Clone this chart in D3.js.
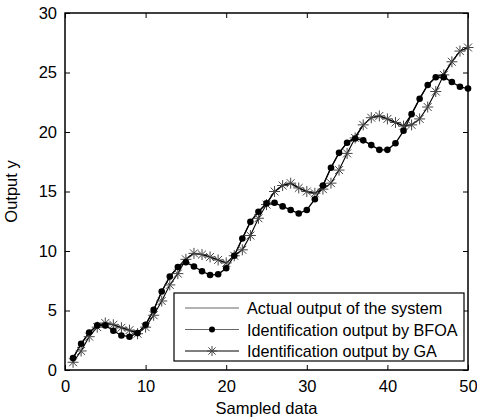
<!DOCTYPE html>
<html><head><meta charset="utf-8">
<script src="https://cdn.jsdelivr.net/npm/d3@7"></script>
<style>body{margin:0;background:#fff}svg{display:block}text{font-family:"Liberation Sans",Arial,sans-serif;fill:#000}</style>
</head><body>
<svg id="c" width="477" height="419"></svg>
<script>
const samples = d3.range(1, 51);
const actualOutput = [1.0,2.2,3.15,3.75,3.95,3.8,3.55,3.35,3.1,3.8,
  5.05,6.6,7.85,8.65,9.35,9.8,9.7,9.5,9.25,9.0,
  9.6,11.05,12.45,13.3,14.0,15.0,15.5,15.7,15.3,15.0,
  14.85,15.5,17.0,18.25,19.1,19.6,20.6,21.2,21.35,21.1,
  20.8,20.5,21.5,22.8,23.95,24.6,24.9,25.9,26.8,27.1];
const bfoaOutput = [1.0,2.2,3.15,3.75,3.75,3.3,2.9,2.8,3.1,3.8,
  5.05,6.6,7.85,8.65,9.05,8.7,8.3,7.98,8.04,8.55,
  9.6,11.05,12.45,13.3,14.0,14.05,13.75,13.45,13.15,13.45,
  14.35,15.5,17.0,18.25,19.1,19.45,19.3,18.9,18.5,18.5,
  19.05,20.1,21.5,22.8,23.95,24.6,24.6,24.2,23.8,23.65];
const gaOutput = [0.65,1.6,2.8,3.6,3.95,3.8,3.55,3.35,3.05,3.6,
  4.6,5.8,7.15,8.1,9.3,9.8,9.7,9.5,9.25,9.0,
  9.6,10.1,11.3,12.75,13.9,15.0,15.5,15.7,15.3,15.0,
  14.85,15.2,15.7,16.8,18.2,19.5,20.6,21.2,21.35,21.1,
  20.8,20.5,20.6,21.1,22.1,23.4,24.8,25.9,26.8,27.1];
const xTicks = [0,10,20,30,40,50];
const yTicks = [0,5,10,15,20,25,30];
const legendLabels = ["Actual output of the system","Identification output by BFOA","Identification output by GA"];

const svg = d3.select("#c");
const L = 65, R = 468, T = 13, B = 370;
const x = d3.scaleLinear().domain([0,50]).range([L,R]);
const y = d3.scaleLinear().domain([0,30]).range([B,T]);

const tk = 5;
const gx = svg.append("g").attr("transform",`translate(0,${B})`)
  .call(d3.axisBottom(x).tickValues(xTicks).tickSizeInner(-tk).tickSizeOuter(0).tickPadding(10));
const gy = svg.append("g").attr("transform",`translate(${L},0)`)
  .call(d3.axisLeft(y).tickValues(yTicks).tickSizeInner(-tk).tickSizeOuter(0).tickPadding(8));
const gxt = svg.append("g").attr("transform",`translate(0,${T})`)
  .call(d3.axisTop(x).tickValues(xTicks).tickSizeInner(-tk).tickSizeOuter(0).tickFormat(""));
const gyr = svg.append("g").attr("transform",`translate(${R},0)`)
  .call(d3.axisRight(y).tickValues(yTicks).tickSizeInner(-tk).tickSizeOuter(0).tickFormat(""));
[gx,gy,gxt,gyr].forEach(g=>{g.select(".domain").remove();g.selectAll("line").attr("stroke","#000");});
[gx,gy].forEach(g=>g.selectAll("text").style("font-size","16.5px").attr("fill","#000"));
svg.append("rect").attr("x",L).attr("y",T).attr("width",R-L).attr("height",B-T)
  .attr("fill","none").attr("stroke","#000").attr("stroke-width",1.5);

const line = d3.line().x((d,i)=>x(samples[i])).y(d=>y(d));
svg.append("path").datum(actualOutput).attr("d",line).attr("fill","none").attr("stroke","#000").attr("stroke-width",1.1);
svg.append("path").datum(bfoaOutput).attr("d",line).attr("fill","none").attr("stroke","#000").attr("stroke-width",1.3);
svg.append("path").datum(gaOutput).attr("d",line).attr("fill","none").attr("stroke","#000").attr("stroke-width",1.1);

function star(g, cx, cy, r){
  const a = r*0.72;
  const p = `M${cx-r},${cy}L${cx+r},${cy}M${cx},${cy-r}L${cx},${cy+r}M${cx-a},${cy-a}L${cx+a},${cy+a}M${cx-a},${cy+a}L${cx+a},${cy-a}`;
  g.append("path").attr("d",p).attr("stroke","#444").attr("stroke-width",1).attr("fill","none");
}
const gStars = svg.append("g");
gaOutput.forEach((v,i)=>star(gStars, x(samples[i]), y(v), 5.5));
svg.append("g").selectAll("circle").data(bfoaOutput).join("circle")
  .attr("cx",(d,i)=>x(samples[i])).attr("cy",d=>y(d)).attr("r",3.3).attr("fill","#000");

// legend
const lg = svg.append("g");
lg.append("rect").attr("x",174).attr("y",293).attr("width",290).attr("height",68)
  .attr("fill","#fff").attr("stroke","#000").attr("stroke-width",1.2);
const rows = [308,329.5,351];
rows.forEach((ry,i)=>{
  lg.append("line").attr("x1",185).attr("x2",239).attr("y1",ry).attr("y2",ry)
    .attr("stroke", i<2 ? "#666" : "#000").attr("stroke-width",1);
  if(i===1) lg.append("circle").attr("cx",212).attr("cy",ry).attr("r",3).attr("fill","#000");
  if(i===2) star(lg,212,ry,5);
  lg.append("text").attr("x",247).attr("y",ry+6).style("font-size","16.2px").text(legendLabels[i]);
});

svg.append("text").attr("x",(L+R)/2).attr("y",414).attr("text-anchor","middle").style("font-size","16.5px").text("Sampled data");
svg.append("text").attr("transform",`translate(17,${(T+B)/2}) rotate(-90)`).attr("text-anchor","middle").style("font-size","16.5px").text("Output y");
</script>
</body></html>
